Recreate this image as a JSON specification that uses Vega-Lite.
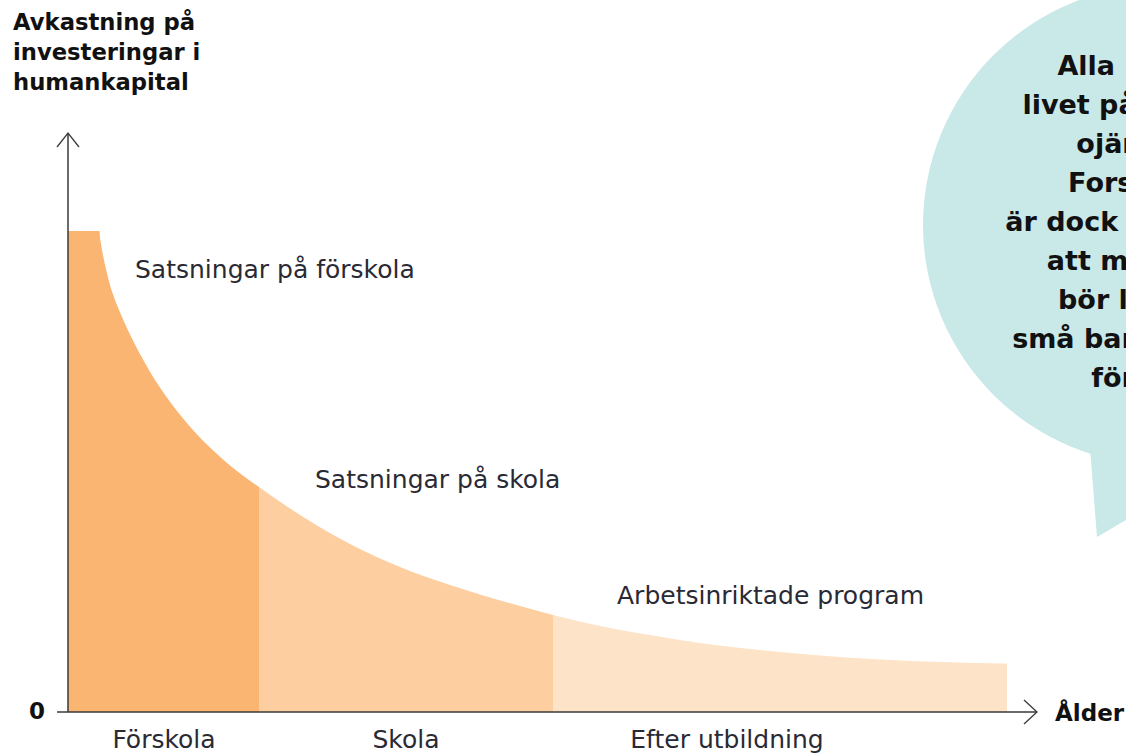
{
  "$schema": "https://vega.github.io/schema/vega-lite/v6.json",
  "width": 1126,
  "height": 754,
  "autosize": "none",
  "padding": 0,
  "background": "white",
  "config": {"view": {"stroke": null}},
  "datasets": {
    "kurva": [
      {"fas": "Förskola", "alder": 3.1, "avkastning": 4.81},
      {"fas": "Förskola", "alder": 3.4, "avkastning": 4.62},
      {"fas": "Förskola", "alder": 3.8, "avkastning": 4.43},
      {"fas": "Förskola", "alder": 4.2, "avkastning": 4.27},
      {"fas": "Förskola", "alder": 4.7, "avkastning": 4.12},
      {"fas": "Förskola", "alder": 5.2, "avkastning": 3.997},
      {"fas": "Förskola", "alder": 6.7, "avkastning": 3.674},
      {"fas": "Förskola", "alder": 8.2, "avkastning": 3.403},
      {"fas": "Förskola", "alder": 10.2, "avkastning": 3.102},
      {"fas": "Förskola", "alder": 12.7, "avkastning": 2.797},
      {"fas": "Förskola", "alder": 15.7, "avkastning": 2.508},
      {"fas": "Förskola", "alder": 19.1, "avkastning": 2.25},
      {"fas": "Skola", "alder": 19.1, "avkastning": 2.25},
      {"fas": "Skola", "alder": 23.2, "avkastning": 1.97},
      {"fas": "Skola", "alder": 28.2, "avkastning": 1.68},
      {"fas": "Skola", "alder": 33.2, "avkastning": 1.45},
      {"fas": "Skola", "alder": 38.2, "avkastning": 1.27},
      {"fas": "Skola", "alder": 45.2, "avkastning": 1.06},
      {"fas": "Skola", "alder": 48.5, "avkastning": 0.97},
      {"fas": "Efter utbildning", "alder": 48.5, "avkastning": 0.97},
      {"fas": "Efter utbildning", "alder": 53.2, "avkastning": 0.86},
      {"fas": "Efter utbildning", "alder": 58.2, "avkastning": 0.77},
      {"fas": "Efter utbildning", "alder": 63.2, "avkastning": 0.69},
      {"fas": "Efter utbildning", "alder": 69.2, "avkastning": 0.62},
      {"fas": "Efter utbildning", "alder": 75.2, "avkastning": 0.565},
      {"fas": "Efter utbildning", "alder": 81.2, "avkastning": 0.525},
      {"fas": "Efter utbildning", "alder": 87.2, "avkastning": 0.5},
      {"fas": "Efter utbildning", "alder": 93.9, "avkastning": 0.485}
    ],
    "pilar": [
      {"pil": "y", "i": 0, "alder": -1.1, "avkastning": 5.65},
      {"pil": "y", "i": 1, "alder": 0, "avkastning": 5.79},
      {"pil": "y", "i": 2, "alder": 1.1, "avkastning": 5.65},
      {"pil": "x", "i": 0, "alder": 95.6, "avkastning": 0.12},
      {"pil": "x", "i": 1, "alder": 96.9, "avkastning": 0},
      {"pil": "x", "i": 2, "alder": 95.6, "avkastning": -0.12}
    ],
    "svans": [
      {"alder": 102.2, "topp": 4, "botten": 2.64},
      {"alder": 102.9, "topp": 4, "botten": 1.75},
      {"alder": 107.5, "topp": 4, "botten": 2.02}
    ],
    "satsningar": [
      {"text": "Satsningar på förskola", "alder": 6.7, "avkastning": 4.42},
      {"text": "Satsningar på skola", "alder": 24.7, "avkastning": 2.32},
      {"text": "Arbetsinriktade program", "alder": 54.9, "avkastning": 1.16}
    ],
    "faser": [
      {"text": "Förskola", "alder": 9.6, "avkastning": -0.28},
      {"text": "Skola", "alder": 33.8, "avkastning": -0.28},
      {"text": "Efter utbildning", "alder": 65.9, "avkastning": -0.28}
    ],
    "axeltext": [
      {"text": "0", "alder": -3.9, "avkastning": 0},
      {"text": "Ålder", "alder": 98.7, "avkastning": -0.02}
    ]
  },
  "layer": [
    {
      "data": {"values": [{}]},
      "mark": {"type": "point", "shape": "circle", "filled": true, "color": "#C9E8E8", "opacity": 1, "size": 230400, "strokeWidth": 0},
      "encoding": {
        "x": {"datum": 109.5, "type": "quantitative", "scale": {"domain": [-6.8, 105.8], "nice": false, "zero": false}, "axis": null},
        "y": {"datum": 4.87, "type": "quantitative", "scale": {"domain": [-0.42, 7.12], "nice": false, "zero": false}, "axis": null}
      }
    },
    {
      "data": {"name": "svans"},
      "mark": {"type": "area", "color": "#C9E8E8", "opacity": 1, "interpolate": "linear"},
      "encoding": {
        "x": {"field": "alder", "type": "quantitative", "scale": {"domain": [-6.8, 105.8], "nice": false, "zero": false}, "axis": null},
        "y": {"field": "topp", "type": "quantitative", "scale": {"domain": [-0.42, 7.12], "nice": false, "zero": false}, "axis": null},
        "y2": {"field": "botten"}
      }
    },
    {
      "data": {"values": [{}]},
      "mark": {"type": "rect", "color": "#FBB572", "opacity": 1},
      "encoding": {
        "x": {"datum": 0, "type": "quantitative", "scale": {"domain": [-6.8, 105.8], "nice": false, "zero": false}, "axis": null},
        "x2": {"datum": 3.15},
        "y": {"datum": 0, "type": "quantitative", "scale": {"domain": [-0.42, 7.12], "nice": false, "zero": false}, "axis": null},
        "y2": {"datum": 4.81}
      }
    },
    {
      "data": {"name": "kurva"},
      "mark": {"type": "area", "interpolate": "monotone", "opacity": 1},
      "encoding": {
        "x": {"field": "alder", "type": "quantitative", "scale": {"domain": [-6.8, 105.8], "nice": false, "zero": false}, "axis": null},
        "y": {"field": "avkastning", "type": "quantitative", "scale": {"domain": [-0.42, 7.12], "nice": false, "zero": false}, "axis": null},
        "y2": {"datum": 0},
        "color": {"field": "fas", "type": "nominal", "scale": {"domain": ["Förskola", "Skola", "Efter utbildning"], "range": ["#FBB572", "#FCCEA0", "#FDE3C8"]}, "legend": null}
      }
    },
    {
      "data": {"values": [{}]},
      "mark": {"type": "rule", "color": "#3a3a3a", "strokeWidth": 1.5},
      "encoding": {
        "x": {"datum": 0, "type": "quantitative", "scale": {"domain": [-6.8, 105.8], "nice": false, "zero": false}, "axis": null},
        "y": {"datum": 0, "type": "quantitative", "scale": {"domain": [-0.42, 7.12], "nice": false, "zero": false}, "axis": null},
        "y2": {"datum": 5.79}
      }
    },
    {
      "data": {"values": [{}]},
      "mark": {"type": "rule", "color": "#3a3a3a", "strokeWidth": 1.5},
      "encoding": {
        "x": {"datum": -1.1, "type": "quantitative", "scale": {"domain": [-6.8, 105.8], "nice": false, "zero": false}, "axis": null},
        "x2": {"datum": 96.9},
        "y": {"datum": 0, "type": "quantitative", "scale": {"domain": [-0.42, 7.12], "nice": false, "zero": false}, "axis": null}
      }
    },
    {
      "data": {"name": "pilar"},
      "mark": {"type": "line", "color": "#3a3a3a", "strokeWidth": 1.3},
      "encoding": {
        "x": {"field": "alder", "type": "quantitative", "scale": {"domain": [-6.8, 105.8], "nice": false, "zero": false}, "axis": null},
        "y": {"field": "avkastning", "type": "quantitative", "scale": {"domain": [-0.42, 7.12], "nice": false, "zero": false}, "axis": null},
        "detail": {"field": "pil"},
        "order": {"field": "i"}
      }
    },
    {
      "data": {"name": "satsningar"},
      "mark": {"type": "text", "align": "left", "baseline": "middle", "font": "DejaVu Sans", "fontSize": 25, "color": "#2a2a35"},
      "encoding": {
        "x": {"field": "alder", "type": "quantitative", "scale": {"domain": [-6.8, 105.8], "nice": false, "zero": false}, "axis": null},
        "y": {"field": "avkastning", "type": "quantitative", "scale": {"domain": [-0.42, 7.12], "nice": false, "zero": false}, "axis": null},
        "text": {"field": "text"}
      }
    },
    {
      "data": {"name": "faser"},
      "mark": {"type": "text", "align": "center", "baseline": "middle", "font": "DejaVu Sans", "fontSize": 25, "color": "#2a2a35"},
      "encoding": {
        "x": {"field": "alder", "type": "quantitative", "scale": {"domain": [-6.8, 105.8], "nice": false, "zero": false}, "axis": null},
        "y": {"field": "avkastning", "type": "quantitative", "scale": {"domain": [-0.42, 7.12], "nice": false, "zero": false}, "axis": null},
        "text": {"field": "text"}
      }
    },
    {
      "data": {"name": "axeltext"},
      "mark": {"type": "text", "align": "left", "baseline": "middle", "font": "DejaVu Sans", "fontWeight": "bold", "fontSize": 23, "color": "#111111"},
      "encoding": {
        "x": {"field": "alder", "type": "quantitative", "scale": {"domain": [-6.8, 105.8], "nice": false, "zero": false}, "axis": null},
        "y": {"field": "avkastning", "type": "quantitative", "scale": {"domain": [-0.42, 7.12], "nice": false, "zero": false}, "axis": null},
        "text": {"field": "text"}
      }
    },
    {
      "data": {"values": [{}]},
      "mark": {"type": "text", "align": "left", "baseline": "alphabetic", "font": "DejaVu Sans", "fontWeight": "bold", "fontSize": 22.7, "lineHeight": 30, "color": "#111111"},
      "encoding": {
        "x": {"datum": -5.5, "type": "quantitative", "scale": {"domain": [-6.8, 105.8], "nice": false, "zero": false}, "axis": null},
        "y": {"datum": 6.82, "type": "quantitative", "scale": {"domain": [-0.42, 7.12], "nice": false, "zero": false}, "axis": null},
        "text": {"value": ["Avkastning på", "investeringar i", "humankapital"]}
      }
    },
    {
      "data": {"values": [{}]},
      "mark": {"type": "text", "align": "center", "baseline": "alphabetic", "font": "DejaVu Sans", "fontWeight": "bold", "fontSize": 27, "lineHeight": 39, "color": "#111111"},
      "encoding": {
        "x": {"datum": 109.4, "type": "quantitative", "scale": {"domain": [-6.8, 105.8], "nice": false, "zero": false}, "axis": null},
        "y": {"datum": 6.37, "type": "quantitative", "scale": {"domain": [-0.42, 7.12], "nice": false, "zero": false}, "axis": null},
        "text": {"value": ["Alla insatser i", "livet påverkar den", "ojämlikhet.", "Forskningen", "är dock entydig med", "att mer pengar", "bör läggas på", "små barn och deras", "föräldrar."]}
      }
    }
  ]
}
